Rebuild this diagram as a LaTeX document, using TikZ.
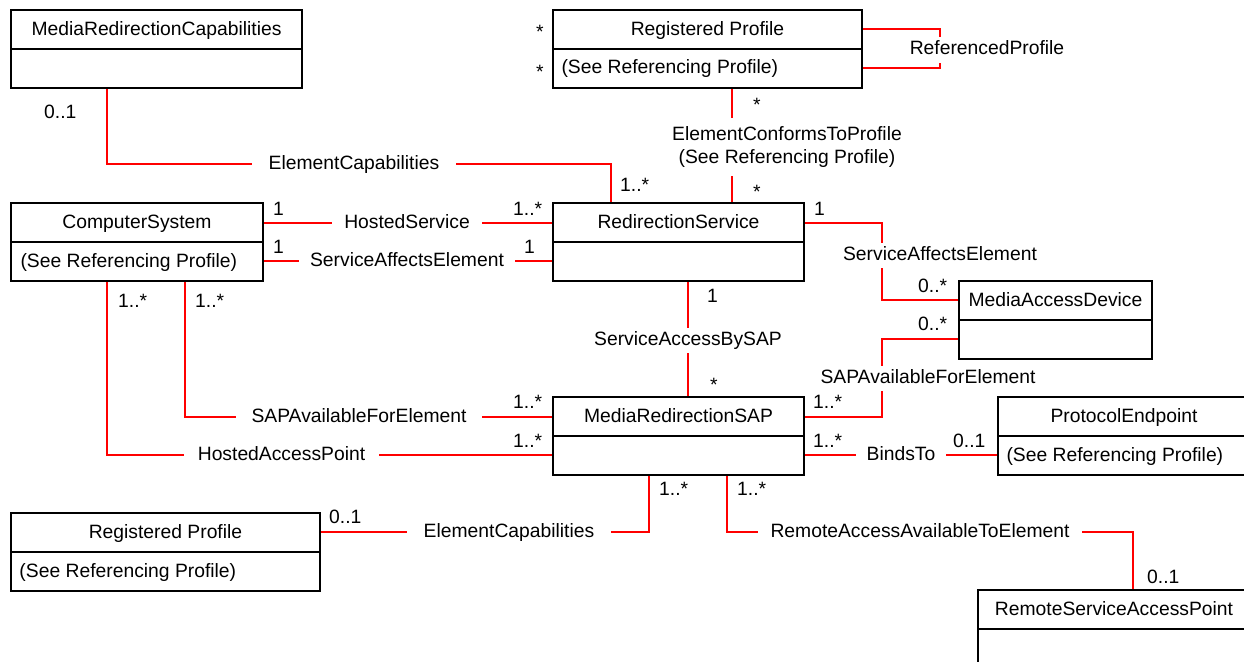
\documentclass[tikz,border=0pt]{standalone}
\usepackage{fontspec}
\setmainfont{Liberation Sans}
\usetikzlibrary{calc,backgrounds}
\begin{document}
\begin{tikzpicture}[x=1pt,y=-1pt,
  every node/.style={font=\fontsize{19.3}{23}\selectfont, inner sep=0pt},
  umlbox/.style={draw=black, line width=1.4pt, minimum height=78pt, fill=white},
  divider/.style={draw=black, line width=1.4pt},
  assoc/.style={draw=red, line width=2.6pt},
  lbl/.style={fill=white, inner xsep=13pt, inner ysep=3.5pt, text height=14pt, text depth=4pt},
  mult/.style={anchor=base west},
  ttl/.style={anchor=base},
  subtxt/.style={anchor=base west}]
\useasboundingbox (0,0) rectangle (1244,661);
\clip (0,0) rectangle (1244,661);

% ---------- class boxes ----------
\node[umlbox, minimum width=291pt] (mrc)  at (156.5,49) {};
\node[umlbox, minimum width=309pt] (rpa)  at (707.5,49) {};
\node[umlbox, minimum width=252pt] (cs)   at (137,242) {};
\node[umlbox, minimum width=251pt] (rs)   at (678.5,242) {};
\node[umlbox, minimum width=193pt] (mad)  at (1055.5,320) {};
\node[umlbox, minimum width=251pt] (sap)  at (678.5,436) {};
\node[umlbox, minimum width=252pt] (pe)   at (1124,436) {};
\node[umlbox, minimum width=309pt] (rpb)  at (165.5,552) {};
\node[umlbox, minimum width=272pt] (rsap) at (1114,629) {};

\foreach \b in {mrc,rpa,cs,rs,mad,sap,pe,rpb,rsap}
  \draw[divider] (\b.west) -- (\b.east);

% titles
\node[ttl] (tmrc)  at ($(mrc.north)+(0,26)$)  {MediaRedirectionCapabilities};
\node[ttl] (trpa)  at ($(rpa.north)+(0,26)$)  {Registered Profile};
\node[ttl] (tcs)   at ($(cs.north)+(0,26)$)   {ComputerSystem};
\node[ttl] (trs)   at ($(rs.north)+(0,26)$)   {RedirectionService};
\node[ttl] (tmad)  at ($(mad.north)+(0,26)$)  {MediaAccessDevice};
\node[ttl] (tsap)  at ($(sap.north)+(0,26)$)  {MediaRedirectionSAP};
\node[ttl] (tpe)   at ($(pe.north)+(0,26)$)   {ProtocolEndpoint};
\node[ttl] (trpb)  at ($(rpb.north)+(0,26)$)  {Registered Profile};
\node[ttl] (trsap) at ($(rsap.north)+(0,26)$) {RemoteServiceAccessPoint};

% second compartments
\node[subtxt] (srpa) at ($(rpa.west)+(9,25)$)  {(See Referencing Profile)};
\node[subtxt] (scs)  at ($(cs.west)+(10,25)$)  {(See Referencing Profile)};
\node[subtxt] (spe)  at ($(pe.west)+(9,25)$)   {(See Referencing Profile)};
\node[subtxt] (srpb) at ($(rpb.west)+(9,25)$)  {(See Referencing Profile)};

% ---------- association labels ----------
\node[lbl, inner xsep=17pt] (lec1) at (354,164) {ElementCapabilities};
\node[lbl, inner ysep=8.5pt] (lecpa) at (787,135) {ElementConformsToProfile};
\node[lbl, inner ysep=8.5pt] (lecpb) at (787,158) {(See Referencing Profile)};
\node[lbl, inner ysep=4pt] (lrp) at (987,50) {ReferencedProfile};
\node[lbl, inner xsep=12pt] (lhs) at (407,223) {HostedService};
\node[lbl, inner xsep=11pt] (lsae1) at (407,261) {ServiceAffectsElement};
\node[lbl] (lsae2) at (940,255) {ServiceAffectsElement};
\node[lbl] (lsab) at (688,340) {ServiceAccessBySAP};
\node[lbl] (lsafe2) at (928,378) {SAPAvailableForElement};
\node[lbl, inner xsep=16pt] (lsafe1) at (359,417) {SAPAvailableForElement};
\node[lbl, inner xsep=13.5pt] (lhap) at (281.5,455) {HostedAccessPoint};
\node[lbl, inner xsep=11pt] (lbt) at (901,455) {BindsTo};
\node[lbl, inner xsep=17pt] (lec2) at (509,532) {ElementCapabilities};
\node[lbl] (lra) at (920,532) {RemoteAccessAvailableToElement};

% ---------- multiplicities ----------
\node[mult] (m1)  at (44,118)   {0..1};
\node[mult] (m2)  at (620,191)  {1..*};
\node[mult] (m3)  at (536,39)   {*};
\node[mult] (m4)  at (536,78)   {*};
\node[mult] (m5)  at (753,111)  {*};
\node[mult] (m6)  at (753,198)  {*};
\node[mult] (m7)  at (273,215)  {1};
\node[mult] (m8)  at (273,253)  {1};
\node[mult] (m9)  at (513,215)  {1..*};
\node[mult] (m10) at (524,253)  {1};
\node[mult] (m11) at (814,215)  {1};
\node[mult] (m12) at (918,292)  {0..*};
\node[mult] (m13) at (918,330)  {0..*};
\node[mult] (m14) at (707,302)  {1};
\node[mult] (m15) at (710,391)  {*};
\node[mult] (m16) at (118,307)  {1..*};
\node[mult] (m17) at (195,307)  {1..*};
\node[mult] (m18) at (513,408)  {1..*};
\node[mult] (m19) at (513,447)  {1..*};
\node[mult] (m20) at (813,408)  {1..*};
\node[mult] (m21) at (813,447)  {1..*};
\node[mult] (m22) at (953,447)  {0..1};
\node[mult] (m23) at (329,523)  {0..1};
\node[mult] (m24) at (659,495)  {1..*};
\node[mult] (m25) at (737,495)  {1..*};
\node[mult] (m26) at (1147,583) {0..1};

% ---------- bend points ----------
\coordinate (k1) at (107,164);
\coordinate (k2) at (611,164);
\coordinate (k3) at (732,146);
\coordinate (k4) at (940,29);
\coordinate (k5) at (940,68);
\coordinate (k6) at (882,223);
\coordinate (k7) at (882,300);
\coordinate (k8) at (882,339);
\coordinate (k9) at (882,417);
\coordinate (k10) at (688,340);
\coordinate (k11) at (185,417);
\coordinate (k12) at (107,455);
\coordinate (k13) at (901,455);
\coordinate (k14) at (649,532);
\coordinate (k15) at (727,532);
\coordinate (k16) at (1133,532);

% ---------- connectors ----------
\begin{scope}[on background layer]
\draw[assoc] (mrc.south -| k1) -- (k1) -- (k2) -- (rs.north -| k2);
\draw[assoc] (rpa.south -| k3) -- (rs.north -| k3);
\draw[assoc] (rpa.east |- k4) -- (k4) -- (k5) -- (rpa.east |- k5);
\draw[assoc] (cs.east |- lhs) -- (rs.west |- lhs);
\draw[assoc] (cs.east |- lsae1) -- (rs.west |- lsae1);
\draw[assoc] (rs.east |- k6) -- (k6) -- (k7) -- (mad.west |- k7);
\draw[assoc] (mad.west |- k8) -- (k8) -- (k9) -- (sap.east |- k9);
\draw[assoc] (rs.south -| k10) -- (sap.north -| k10);
\draw[assoc] (cs.south -| k11) -- (k11) -- (sap.west |- k11);
\draw[assoc] (cs.south -| k12) -- (k12) -- (sap.west |- k12);
\draw[assoc] (sap.east |- k13) -- (pe.west |- k13);
\draw[assoc] (rpb.east |- k14) -- (k14) -- (sap.south -| k14);
\draw[assoc] (sap.south -| k15) -- (k15) -- (k16) -- (rsap.north -| k16);
\end{scope}
\end{tikzpicture}
\end{document}
